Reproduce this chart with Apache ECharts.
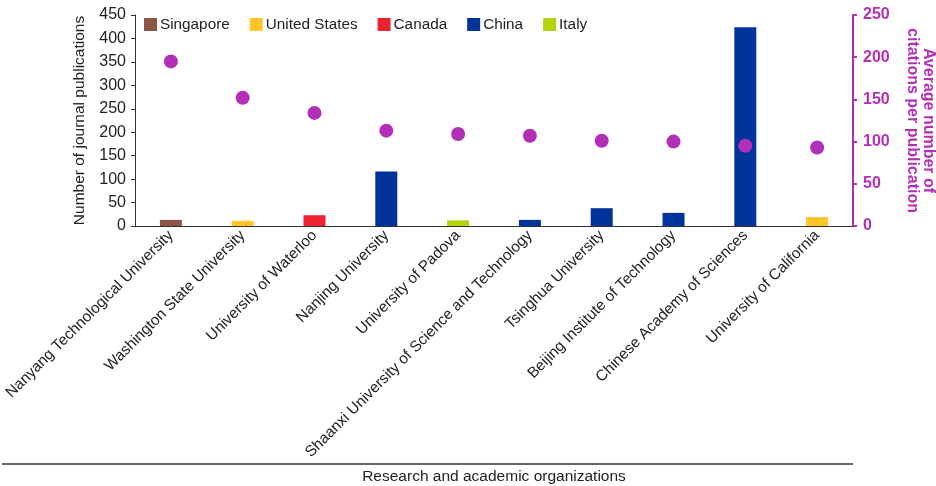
<!DOCTYPE html>
<html>
<head>
<meta charset="utf-8">
<style>
    html, body { margin: 0; padding: 0; background: #fff; }
    #chart { width: 936px; height: 486px; }
</style>
<script src="https://cdn.jsdelivr.net/npm/echarts@6/dist/echarts.min.js"></script>
</head>
<body>
<div id="chart"></div>
<script>
var organizations = [
    'Nanyang Technological University',
    'Washington State University',
    'University of Waterloo',
    'Nanjing University',
    'University of Padova',
    'Shaanxi University of Science and Technology',
    'Tsinghua University',
    'Beijing Institute of Technology',
    'Chinese Academy of Sciences',
    'University of California'
];
var orgCountries = ['Singapore', 'United States', 'Canada', 'China', 'Italy',
    'China', 'China', 'China', 'China', 'United States'];
var publications = [13, 11, 23, 116, 12, 13, 38, 28, 424, 19];
var citations = [195, 152, 134, 113, 109, 107, 101, 100, 95, 93];

var countries = ['Singapore', 'United States', 'Canada', 'China', 'Italy'];
var countryColors = ['#8c5548', '#ffc52b', '#ed2330', '#00339c', '#b4d30e'];

var leftTicks = [0, 450, 50];
var rightTicks = [0, 250, 50];

var purple = '#b32fb6';
var font = '"Liberation Sans", Arial, sans-serif';

var chart = echarts.init(document.getElementById('chart'));

function genBarSeries() {
    var list = [];
    for (var c = 0; c < countries.length; c++) {
        var data = [];
        for (var i = 0; i < organizations.length; i++) {
            data.push(orgCountries[i] === countries[c] ? publications[i] : '-');
        }
        list.push({
            name: countries[c],
            type: 'bar',
            stack: 'pubs',
            barWidth: 22,
            yAxisIndex: 0,
            itemStyle: { color: countryColors[c] },
            data: data
        });
    }
    return list;
}

var series = genBarSeries();
series.push({
    name: 'Average citations',
    type: 'scatter',
    yAxisIndex: 1,
    symbolSize: 14,
    itemStyle: { color: purple, opacity: 1 },
    data: citations,
    z: 5
});

chart.setOption({
    animation: false,
    textStyle: { fontFamily: font },
    grid: {
        left: 135, right: 83, top: 15, bottom: 260,
        containLabel: false, outerBoundsMode: 'none'
    },
    legend: {
        data: countries,
        left: 139,
        top: 12,
        itemWidth: 13,
        itemHeight: 13,
        itemGap: 20,
        icon: 'rect',
        textStyle: { fontSize: 15.3, color: '#222', fontFamily: font, padding: [0, 0, 0, -2] }
    },
    xAxis: {
        type: 'category',
        data: organizations,
        name: 'Research and academic organizations',
        nameLocation: 'middle',
        nameGap: 243,
        nameTextStyle: { fontSize: 15.5, color: '#222', fontFamily: font },
        axisLine: { lineStyle: { color: '#333', width: 1 } },
        axisTick: { alignWithLabel: true, length: 4, lineStyle: { color: '#333' } },
        axisLabel: {
            rotate: 45,
            interval: 0,
            fontSize: 15.3,
            color: '#222',
            margin: 7,
            fontFamily: font
        }
    },
    yAxis: [{
        type: 'value',
        min: leftTicks[0],
        max: leftTicks[1],
        interval: leftTicks[2],
        name: 'Number of journal publications',
        nameLocation: 'middle',
        nameGap: 47,
        nameRotate: 90,
        nameTextStyle: { fontSize: 15.5, color: '#222', fontFamily: font },
        axisLine: { show: true, lineStyle: { color: '#333' } },
        axisTick: { show: true, length: 4, lineStyle: { color: '#333' } },
        axisLabel: { fontSize: 16, color: '#222', margin: 9, fontFamily: font },
        splitLine: { show: false }
    }, {
        type: 'value',
        position: 'right',
        min: rightTicks[0],
        max: rightTicks[1],
        interval: rightTicks[2],
        name: 'Average number of\ncitations per publication',
        nameLocation: 'middle',
        nameGap: 51,
        nameRotate: -90,
        nameTextStyle: {
            fontSize: 16, color: purple, fontWeight: 'bold',
            fontFamily: font, lineHeight: 16
        },
        axisLine: { show: true, lineStyle: { color: purple, width: 2 } },
        axisTick: { show: true, length: 4, lineStyle: { color: purple, width: 2 } },
        axisLabel: { fontSize: 16, color: purple, fontWeight: 'bold', margin: 10, fontFamily: font },
        splitLine: { show: false }
    }],
    graphic: [{
        type: 'line',
        shape: { x1: 2, y1: 464, x2: 853, y2: 464 },
        style: { stroke: '#666', lineWidth: 2 }
    }],
    series: series
});
</script>
</body>
</html>
